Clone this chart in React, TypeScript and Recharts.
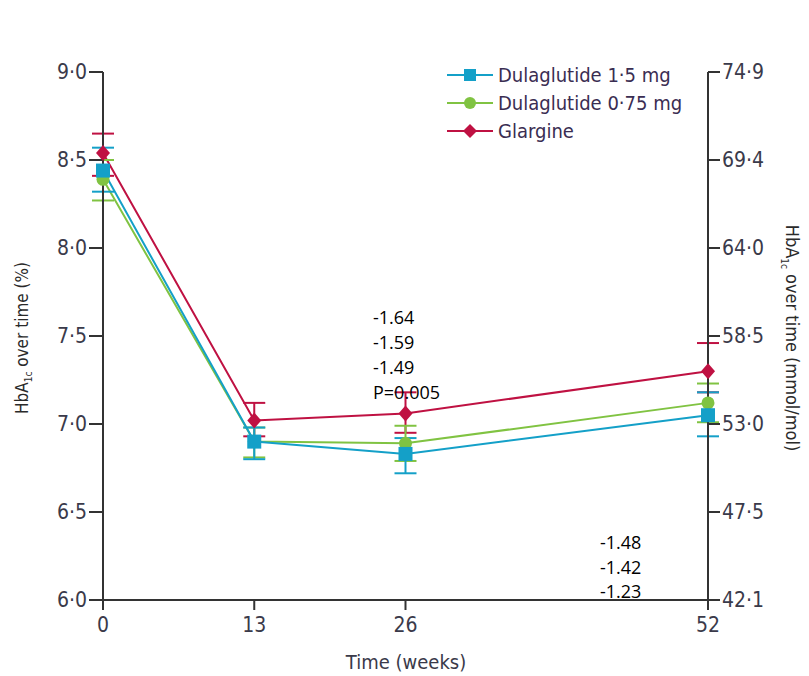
import React from "react"
import { LineChart, Line, XAxis, YAxis, ErrorBar } from "recharts"

const weeks = [0, 13, 26, 52]
const xTicks = [0, 13, 26, 52]
const yTicks = [6, 6.5, 7, 7.5, 8, 8.5, 9]
const mmolLabels = ["42·1", "47·5", "53·0", "58·5", "64·0", "69·4", "74·9"]

// HbA1c means (%) and CI bounds
const dula15 = [8.44, 6.9, 6.83, 7.05]
const dula15Low = [8.32, 6.8, 6.72, 6.93]
const dula15High = [8.57, 6.98, 6.92, 7.18]

const dula075 = [8.39, 6.9, 6.89, 7.12]
const dula075Low = [8.27, 6.81, 6.79, 7.01]
const dula075High = [8.5, 6.98, 6.99, 7.23]

const glargine = [8.54, 7.02, 7.06, 7.3]
const glargineLow = [8.41, 6.93, 6.95, 7.18]
const glargineHigh = [8.65, 7.12, 7.18, 7.46]

const notesTop = ["-1.64", "-1.59", "-1.49", "P=0.005"]
const notesBottom = ["-1.48", "-1.42", "-1.23"]

const BLUE = "#14a0c8"
const GREEN = "#80c342"
const RED = "#bf1142"
const AXIS = "#333"
const FONT = "'Liberation Sans Narrow', 'DejaVu Sans Condensed', 'Liberation Sans', sans-serif"
const NOTE_FONT = "'Open Sans', 'Noto Sans', sans-serif"

const data = weeks.map((w, i) => ({
  week: w,
  d15: dula15[i],
  d15Err: [dula15[i] - dula15Low[i], dula15High[i] - dula15[i]],
  d075: dula075[i],
  d075Err: [dula075[i] - dula075Low[i], dula075High[i] - dula075[i]],
  gla: glargine[i],
  glaErr: [glargine[i] - glargineLow[i], glargineHigh[i] - glargine[i]],
}))

const fmt = (v: number) => v.toFixed(1).replace(".", "·")
const fmtRight = (v: number) => mmolLabels[yTicks.indexOf(v)] ?? ""

const SquareDot = (props: any) => {
  const { cx, cy, index } = props
  return <rect key={`sq-${index}`} x={cx - 7} y={cy - 7} width={14} height={14} fill={BLUE} />
}
const CircleDot = (props: any) => {
  const { cx, cy, index } = props
  return <circle key={`ci-${index}`} cx={cx} cy={cy} r={6.5} fill={GREEN} />
}
const DiamondDot = (props: any) => {
  const { cx, cy, index } = props
  return (
    <polygon
      key={`di-${index}`}
      points={`${cx},${cy - 8} ${cx + 7},${cy} ${cx},${cy + 8} ${cx - 7},${cy}`}
      fill={RED}
    />
  )
}

const legendItems = [
  { name: "Dulaglutide 1·5 mg", color: BLUE, shape: "square" },
  { name: "Dulaglutide 0·75 mg", color: GREEN, shape: "circle" },
  { name: "Glargine", color: RED, shape: "diamond" },
]

function LegendIcon({ color, shape }: { color: string; shape: string }) {
  return (
    <svg width={46} height={20} style={{ marginRight: 5 }}>
      <line x1={0} y1={10} x2={46} y2={10} stroke={color} strokeWidth={2} />
      {shape === "square" && <rect x={17} y={4} width={12} height={12} fill={color} />}
      {shape === "circle" && <circle cx={23} cy={10} r={6} fill={color} />}
      {shape === "diamond" && <polygon points="23,3 30,10 23,17 16,10" fill={color} />}
    </svg>
  )
}

export default function App() {
  const tickStyle = { fill: "#3a3a4a", fontSize: 21, fontFamily: FONT }
  return (
    <div style={{ position: "relative", width: 793, height: 668 }}>
      <LineChart width={793} height={660} data={data} margin={{ top: 64, right: 33, bottom: 28, left: 35 }}>
        <XAxis
          dataKey="week"
          type="number"
          domain={[0, 52]}
          ticks={xTicks}
          height={40}
          stroke={AXIS}
          strokeWidth={2}
          tickSize={10}
          tickMargin={7}
          tick={tickStyle}
        />
        <YAxis
          yAxisId="left"
          domain={[6, 9]}
          ticks={yTicks}
          width={60}
          stroke={AXIS}
          strokeWidth={2}
          tickSize={14}
          tickFormatter={fmt}
          tick={tickStyle}
        />
        <YAxis
          yAxisId="right"
          orientation="right"
          domain={[6, 9]}
          ticks={yTicks}
          width={60}
          stroke={AXIS}
          strokeWidth={2}
          tickSize={12}
          tickFormatter={fmtRight}
          tick={tickStyle}
        />
        <Line yAxisId="left" dataKey="gla" stroke={RED} strokeWidth={2} dot={DiamondDot} isAnimationActive={false}>
          <ErrorBar dataKey="glaErr" width={11} stroke={RED} strokeWidth={2} direction="y" />
        </Line>
        <Line yAxisId="right" dataKey="d075" stroke={GREEN} strokeWidth={2} dot={CircleDot} isAnimationActive={false}>
          <ErrorBar dataKey="d075Err" width={11} stroke={GREEN} strokeWidth={2} direction="y" />
        </Line>
        <Line yAxisId="left" dataKey="d15" stroke={BLUE} strokeWidth={2} dot={SquareDot} isAnimationActive={false}>
          <ErrorBar dataKey="d15Err" width={11} stroke={BLUE} strokeWidth={2} direction="y" />
        </Line>
      </LineChart>

      <div style={{ position: "absolute", left: 439, top: 53, fontFamily: FONT, fontSize: 20, color: "#3a2d52" }}>
        {legendItems.map((it) => (
          <div key={it.name} style={{ display: "flex", alignItems: "center", height: 28 }}>
            <LegendIcon color={it.color} shape={it.shape} />
            <span>{it.name}</span>
          </div>
        ))}
      </div>

      <div
        style={{
          position: "absolute",
          left: 15,
          top: 330,
          transform: "translate(-50%, -50%) rotate(-90deg)",
          whiteSpace: "nowrap",
          fontFamily: FONT,
          fontSize: 17,
          color: "#2a2a2a",
        }}
      >
        HbA<sub style={{ fontSize: 10 }}>1c</sub> over time (%)
      </div>
      <div
        style={{
          position: "absolute",
          left: 783,
          top: 330,
          transform: "translate(-50%, -50%) rotate(90deg)",
          whiteSpace: "nowrap",
          fontFamily: FONT,
          fontSize: 18,
          color: "#2a2a2a",
        }}
      >
        HbA<sub style={{ fontSize: 10 }}>1c</sub> over time (mmol/mol)
      </div>
      <div
        style={{
          position: "absolute",
          left: 398,
          top: 654,
          transform: "translate(-50%, -50%)",
          whiteSpace: "nowrap",
          fontFamily: FONT,
          fontSize: 20,
          color: "#3a3a4a",
        }}
      >
        Time (weeks)
      </div>

      <div style={{ position: "absolute", left: 365, top: 297, fontFamily: NOTE_FONT, fontSize: 18, lineHeight: "25px", color: "#000" }}>
        {notesTop.map((t) => (
          <div key={t}>{t}</div>
        ))}
      </div>
      <div style={{ position: "absolute", left: 592, top: 522, fontFamily: NOTE_FONT, fontSize: 18, lineHeight: "24.5px", color: "#000" }}>
        {notesBottom.map((t) => (
          <div key={t}>{t}</div>
        ))}
      </div>
    </div>
  )
}
